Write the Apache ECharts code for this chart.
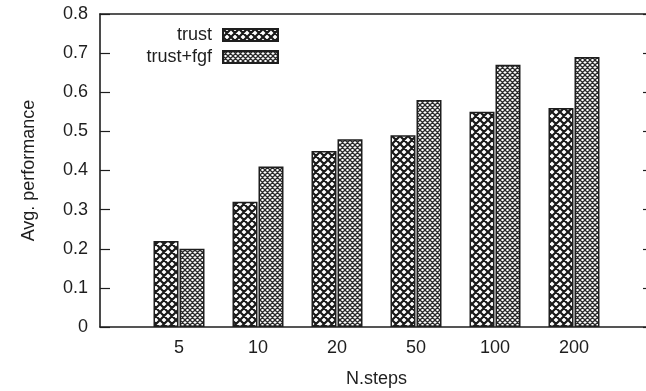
<!DOCTYPE html>
<html>
<head>
<meta charset="utf-8">
<script src="https://cdn.jsdelivr.net/npm/echarts@6/dist/echarts.min.js"></script>
<style>
  html, body { margin: 0; padding: 0; background: #fff; }
  #chart { width: 646px; height: 391px; }
</style>
</head>
<body>
<div id="chart"></div>
<script>
// Number of steps on the x axis
const steps = ['5', '10', '20', '50', '100', '200'];
// Average performance per configuration
const trust = [0.22, 0.32, 0.45, 0.49, 0.55, 0.56];
const trustFgf = [0.20, 0.41, 0.48, 0.58, 0.67, 0.69];
// Y tick values
const yTicks = [0, 0.1, 0.2, 0.3, 0.4, 0.5, 0.6, 0.7, 0.8];

const ink = '#1e1e1e';
const font = 'Liberation Sans, Arial, Helvetica, sans-serif';
const fs = 18;

// Diagonal cross-hatch tile used as a bar fill
function hatch(size, lw, color) {
  const c = document.createElement('canvas');
  c.width = c.height = size;
  const g = c.getContext('2d');
  g.fillStyle = '#fff';
  g.fillRect(0, 0, size, size);
  g.strokeStyle = color;
  g.lineWidth = lw;
  g.beginPath();
  for (const k of [-size, 0, size]) {
    g.moveTo(k, 0); g.lineTo(k + size, size);
    g.moveTo(k + size, 0); g.lineTo(k, size);
  }
  g.stroke();
  return c;
}

const coarse = { image: hatch(8, 2.2, '#1a1a1a'), repeat: 'repeat' };
const fine = { image: hatch(5, 1.3, '#2a2a2a'), repeat: 'repeat' };

const chart = echarts.init(document.getElementById('chart'), null, { renderer: 'canvas' });

const xBase = {
  type: 'value', min: -1, max: steps.length, interval: 1,
  splitLine: { show: false },
  axisTick: { show: false },
  axisLine: { show: true, onZero: false, lineStyle: { color: ink, width: 1.6 } }
};
const yBase = {
  type: 'value', min: yTicks[0], max: yTicks[yTicks.length - 1], interval: 0.1,
  splitLine: { show: false },
  axisTick: { show: true, inside: true, length: 10, lineStyle: { color: ink, width: 1.2 } },
  axisLine: { show: true, onZero: false, lineStyle: { color: ink, width: 1.6 } }
};

chart.setOption({
  animation: false,
  backgroundColor: '#fff',
  textStyle: { fontFamily: font },
  grid: {
    left: 100, top: 14, width: 553, height: 313,
    containLabel: false, outerBoundsMode: 'none'
  },
  legend: {
    orient: 'vertical', align: 'right',
    right: 367, top: 26, padding: 0,
    icon: 'rect',
    itemWidth: 55, itemHeight: 12, itemGap: 4,
    textStyle: { fontFamily: font, fontSize: fs, color: ink, padding: [0, 6, 0, 0] },
    data: ['trust', 'trust+fgf']
  },
  xAxis: [
    Object.assign({}, xBase, {
      position: 'bottom',
      name: 'N.steps', nameLocation: 'middle', nameGap: 43,
      nameTextStyle: { fontFamily: font, fontSize: fs, color: ink },
      axisLabel: {
        show: true, margin: 12, fontSize: fs, color: ink, fontFamily: font,
        formatter: v => (steps[v] !== undefined ? steps[v] : '')
      }
    }),
    Object.assign({}, xBase, { position: 'top', axisLabel: { show: false } })
  ],
  yAxis: [
    Object.assign({}, yBase, {
      position: 'left',
      name: 'Avg. performance', nameLocation: 'middle', nameGap: 62,
      nameTextStyle: { fontFamily: font, fontSize: fs, color: ink },
      axisLabel: {
        show: true, margin: 12, fontSize: fs, color: ink, fontFamily: font,
        formatter: v => String(+v.toFixed(1))
      }
    }),
    Object.assign({}, yBase, { position: 'right', axisLabel: { show: false } })
  ],
  series: [
    {
      name: 'trust', type: 'bar', xAxisIndex: 0, yAxisIndex: 0,
      barWidth: 25, barGap: '4%',
      itemStyle: { color: coarse, borderColor: ink, borderWidth: 1.5 },
      data: steps.map((s, i) => [i, trust[i]])
    },
    {
      name: 'trust+fgf', type: 'bar', xAxisIndex: 0, yAxisIndex: 0,
      barWidth: 25, barGap: '4%',
      itemStyle: { color: fine, borderColor: ink, borderWidth: 1.5 },
      data: steps.map((s, i) => [i, trustFgf[i]])
    }
  ]
});
</script>
</body>
</html>
